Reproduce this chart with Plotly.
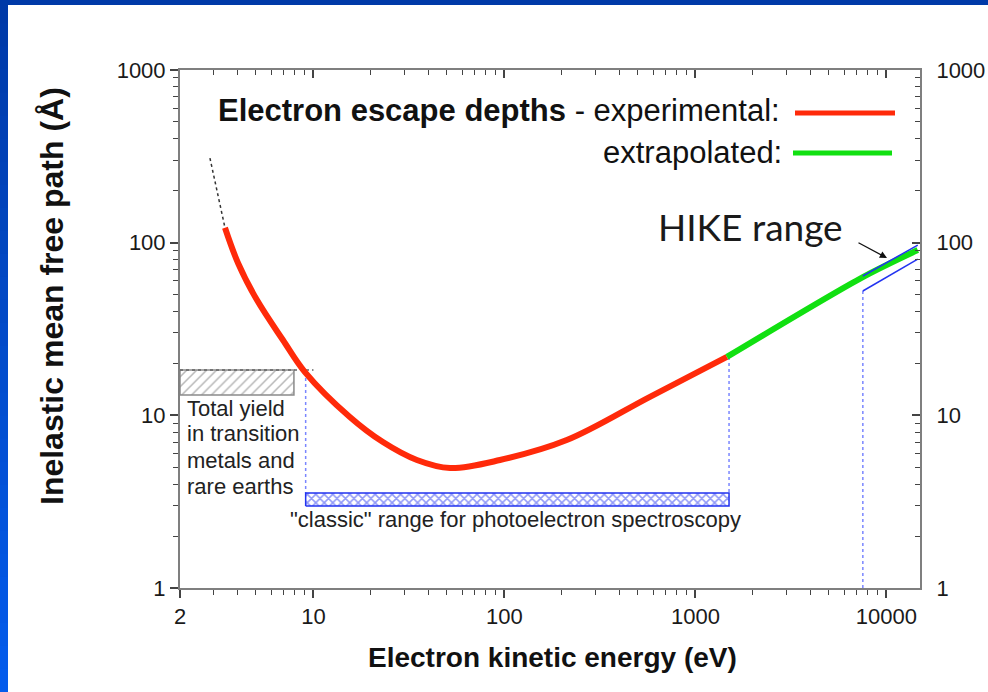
import math
import plotly.graph_objects as go

# ---- data -----------------------------------------------------------------
# experimental inelastic mean free path (universal curve)
exp_energy = [3.44, 4.03, 5.06, 6.92, 9.02, 15.5, 23.1, 34.8, 51.9, 94.7, 212, 578, 1462]
exp_imfp = [122, 76, 46.5, 27.3, 17.8, 9.78, 7.0, 5.51, 4.95, 5.51, 7.19, 12.8, 21.8]

# low-energy continuation (dotted)
low_energy = [2.87, 3.44]
low_imfp = [309, 122]

# extrapolation to high kinetic energies
extrap_energy = [1462, 7530, 14600]
extrap_imfp = [21.8, 63.2, 90.6]

# HIKE range bounds
hike_energy = [7530, 14600]
hike_upper = [64.1, 96.8]
hike_lower = [52.5, 80.4]

# total-yield band (transition metals / rare earths)
ty_energy = [2, 7.9]
ty_imfp = [13.1, 18.3]
ty_edge_energy = [2, 10]

# "classic" photoemission range
classic_energy = [9.1, 1500]
classic_imfp = [2.98, 3.55]

# dotted markers of the range limits
vline_energy = [9.1, 1500, 7530]
vline_top = [17.8, 21.8, 52.5]
vline_bottom = [3.55, 3.55, 1]

x_ticks = [2, 10, 100, 1000, 10000]
x_minor = [m * d for d in (1, 10, 100, 1000) for m in range(2, 10) if 2 < m * d < 15000]
y_ticks = [1, 10, 100, 1000]
y_minor = [m * d for d in (1, 10, 100) for m in range(2, 10)]

x_range = [math.log10(2), math.log10(15000)]
y_range = [0, 3]

# ---- page geometry helpers -------------------------------------------------
W, H = 988, 692
L, R, T, B = 180, 920, 70, 588


def px(x):
    return (x - L) / (R - L)


def py(y):
    return (B - y) / (B - T)


FONT = "Arial, Liberation Sans, sans-serif"
RED = "#ff2a0a"
GREEN = "#11e011"
BLUE = "#2233f0"

fig = go.Figure()

# dotted range limits
for e, top, bot in zip(vline_energy, vline_top, vline_bottom):
    fig.add_trace(go.Scatter(x=[e, e], y=[top, bot], mode="lines",
                             line=dict(color="#7a86ff", width=1.5, dash="dot"),
                             hoverinfo="skip", showlegend=False))

# total-yield hatched box
fig.add_trace(go.Scatter(
    x=[ty_energy[0], ty_energy[1], ty_energy[1], ty_energy[0], ty_energy[0]],
    y=[ty_imfp[0], ty_imfp[0], ty_imfp[1], ty_imfp[1], ty_imfp[0]],
    mode="lines", fill="toself", fillcolor="white",
    fillpattern=dict(shape="/", fgcolor="#707070", bgcolor="white", size=7, solidity=0.22),
    line=dict(color="#8a8a8a", width=1.5), hoverinfo="skip", showlegend=False))
fig.add_trace(go.Scatter(x=ty_edge_energy, y=[ty_imfp[1]] * 2, mode="lines",
                         line=dict(color="#666666", width=1.5, dash="dot"),
                         hoverinfo="skip", showlegend=False))

# classic range cross-hatched bar
fig.add_trace(go.Scatter(
    x=[classic_energy[0], classic_energy[1], classic_energy[1], classic_energy[0], classic_energy[0]],
    y=[classic_imfp[0], classic_imfp[0], classic_imfp[1], classic_imfp[1], classic_imfp[0]],
    mode="lines", fill="toself", fillcolor="white",
    fillpattern=dict(shape="x", fgcolor=BLUE, bgcolor="white", size=6, solidity=0.45),
    line=dict(color=BLUE, width=1.5), hoverinfo="skip", showlegend=False))

# curves
fig.add_trace(go.Scatter(x=low_energy, y=low_imfp, mode="lines",
                         line=dict(color="#333333", width=1.5, dash="dot"),
                         hoverinfo="skip", showlegend=False))
fig.add_trace(go.Scatter(x=exp_energy, y=exp_imfp, mode="lines", name="experimental",
                         line=dict(color=RED, width=6, shape="spline", smoothing=1.0),
                         showlegend=False))
fig.add_trace(go.Scatter(x=extrap_energy, y=extrap_imfp, mode="lines", name="extrapolated",
                         line=dict(color=GREEN, width=6, shape="spline", smoothing=0.8),
                         showlegend=False))
for yv in (hike_upper, hike_lower):
    fig.add_trace(go.Scatter(x=hike_energy, y=yv, mode="lines",
                             line=dict(color=BLUE, width=1.5),
                             hoverinfo="skip", showlegend=False))

# carrier trace for the mirrored top / right axes
fig.add_trace(go.Scatter(x=[10], y=[10], xaxis="x2", yaxis="y2", mode="markers",
                         marker=dict(opacity=0), hoverinfo="skip", showlegend=False))

tickfont = dict(family=FONT, size=22, color="#1a1a1a")
common = dict(type="log", showgrid=False, zeroline=False, showline=True, automargin=False,
              linecolor="#7f7f7f", linewidth=2, tickcolor="#444444", tickwidth=1.5,
              tickfont=tickfont, tickmode="array")

fig.update_layout(
    width=W, height=H, autosize=False,
    margin=dict(l=L, r=W - R, t=T, b=H - B),
    paper_bgcolor="white", plot_bgcolor="white",
    xaxis=dict(**common, range=x_range, tickvals=x_ticks,
               ticktext=[str(v) for v in x_ticks], ticks="outside", ticklen=8,
               minor=dict(tickmode="array", tickvals=x_minor, ticks="outside",
                          ticklen=5, tickcolor="#444444", tickwidth=1.2)),
    yaxis=dict(**common, range=y_range, tickvals=y_ticks,
               ticktext=[str(v) for v in y_ticks], ticks="outside", ticklen=8,
               minor=dict(tickmode="array", tickvals=y_minor, ticks="outside",
                          ticklen=5, tickcolor="#444444", tickwidth=1.2)),
    xaxis2=dict(**common, range=x_range, tickvals=x_ticks, overlaying="x", side="top",
                anchor="y2", ticks="inside", ticklen=8, showticklabels=False,
                minor=dict(tickmode="array", tickvals=x_minor, ticks="inside",
                           ticklen=5, tickcolor="#444444", tickwidth=1.2)),
    yaxis2=dict(**common, range=y_range, tickvals=y_ticks,
                ticktext=[str(v) for v in y_ticks], overlaying="y", side="right",
                anchor="x2", ticks="inside", ticklen=8, ticklabelstandoff=10,
                minor=dict(tickmode="array", tickvals=y_minor, ticks="inside",
                           ticklen=5, tickcolor="#444444", tickwidth=1.2)),
)

ann = []


def text(x, y, s, size, xanchor="left", yanchor="middle", family=FONT, color="#111111", **kw):
    ann.append(dict(x=px(x), y=py(y), xref="paper", yref="paper", text=s, showarrow=False,
                    xanchor=xanchor, yanchor=yanchor,
                    font=dict(family=family, size=size, color=color), **kw))


# legend block
text(216, 111, "<b>Electron escape depths</b> - experimental:", 31)
text(784, 152, "extrapolated:", 31, xanchor="right")

# labels
text(656, 227, "HIKE range", 37, family="Lato, Open Sans, sans-serif", color="#1a1a1a")
for i, line in enumerate(["Total yield", "in transition", "metals and", "rare earths"]):
    text(185, 408 + 26 * i, line, 22, color="#222222")
text(515, 519, "\"classic\" range for photoelectron spectroscopy", 22, xanchor="center",
     color="#222222")

# axis titles
text(552, 657, "<b>Electron kinetic energy (eV)</b>", 28, xanchor="center", color="#111111")
text(52, 296, "<b>Inelastic mean free path (Å)</b>", 32, xanchor="center", color="#111111",
     textangle=-90)

# arrow pointing at the HIKE bounds
ann.append(dict(x=px(887), y=py(258), xref="paper", yref="paper", text="",
                showarrow=True, ax=-30, ay=-16, arrowhead=2, arrowsize=1.1,
                arrowwidth=1.3, arrowcolor="#111111"))
fig.update_layout(annotations=ann)

shapes = []
# legend sample lines
shapes.append(dict(type="line", xref="paper", yref="paper", x0=px(795), x1=px(895),
                   y0=py(113), y1=py(113), line=dict(color=RED, width=5)))
shapes.append(dict(type="line", xref="paper", yref="paper", x0=px(793), x1=px(892),
                   y0=py(153), y1=py(153), line=dict(color=GREEN, width=5)))

# slide frame: solid top band and shaded left band
shapes.append(dict(type="rect", xref="paper", yref="paper", x0=px(0), x1=px(W),
                   y0=py(5), y1=py(0), line=dict(width=0), fillcolor="#003aa8"))
n = 30
c0, c1 = (0, 58, 168), (4, 92, 236)
for i in range(n):
    f = i / (n - 1)
    col = "rgb(%d,%d,%d)" % tuple(round(a + (b - a) * f) for a, b in zip(c0, c1))
    shapes.append(dict(type="rect", xref="paper", yref="paper", x0=px(0), x1=px(8),
                       y0=py(H * (i + 1) / n + 1), y1=py(H * i / n), line=dict(width=0),
                       fillcolor=col))
fig.update_layout(shapes=shapes)

fig.write_html("out.html")
